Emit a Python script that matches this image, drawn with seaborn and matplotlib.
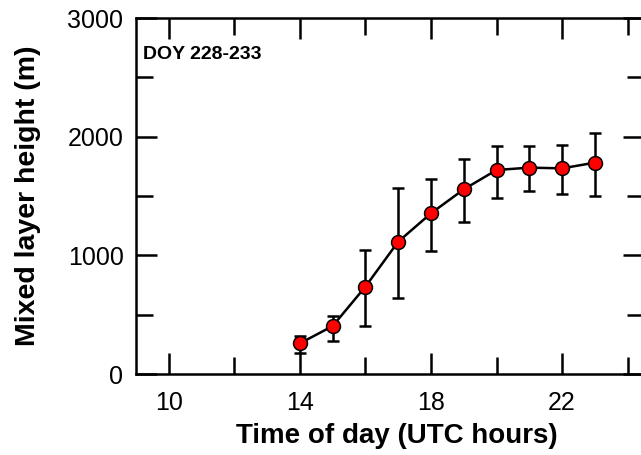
import matplotlib
matplotlib.use("Agg")
import matplotlib.pyplot as plt
import seaborn as sns
import pandas as pd
import numpy as np
from matplotlib.ticker import MultipleLocator

hours = [14, 15, 16, 17, 18, 19, 20, 21, 22, 23]
mlh = [258, 404, 736, 1115, 1354, 1556, 1719, 1739, 1733, 1781]
upper = [323, 489, 1045, 1565, 1643, 1809, 1924, 1921, 1930, 2028]
lower = [180, 281, 404, 643, 1036, 1284, 1486, 1542, 1517, 1503]
label_text = "DOY 228-233"

sns.set_theme(style="ticks")
plt.rcParams['font.family'] = ['Liberation Sans', 'DejaVu Sans']
plt.rcParams['text.color'] = 'black'
plt.rcParams['axes.labelcolor'] = 'black'
plt.rcParams['xtick.color'] = 'black'
plt.rcParams['ytick.color'] = 'black'

df = pd.DataFrame({"hour": hours, "mlh": mlh})
yerr = np.array([np.array(mlh) - np.array(lower), np.array(upper) - np.array(mlh)])

fig = plt.figure(figsize=(6.41, 4.55), dpi=100)
ax = fig.add_axes([136 / 641, (455 - 374) / 455, (644 - 136) / 641, (374 - 18) / 455])

ax.errorbar(hours, mlh, yerr=yerr, fmt="none", ecolor="black", elinewidth=1.8,
            capsize=4.5, capthick=1.8, zorder=2)
sns.lineplot(data=df, x="hour", y="mlh", ax=ax, color="black", linewidth=1.8,
             marker="o", markersize=10, markerfacecolor="#ff0000",
             markeredgecolor="black", markeredgewidth=1.1, zorder=3)

ax.set_xlim(9, 24.5)
ax.set_ylim(0, 3000)
ax.set_xticks([10, 14, 18, 22])
ax.set_xticks([12, 16, 20, 24], minor=True)
ax.set_yticks([0, 1000, 2000, 3000])
ax.yaxis.set_minor_locator(MultipleLocator(500))

for side in ["left", "right", "top", "bottom"]:
    ax.spines[side].set_visible(True)
    ax.spines[side].set_linewidth(1.8)
    ax.spines[side].set_color("black")

ax.tick_params(which="major", direction="in", length=15, width=1.8,
               top=True, right=True, labelsize=18, colors="black")
ax.tick_params(which="minor", direction="in", length=12.5, width=1.8,
               top=True, right=True)
ax.tick_params(axis="x", which="major", pad=12)
ax.tick_params(axis="y", which="major", pad=9)

ax.set_xlabel("Time of day (UTC hours)", fontsize=20, fontweight="bold", labelpad=6)
ax.xaxis.label.set_x(0.514)
ax.set_ylabel("Mixed layer height (m)", fontsize=20.5, fontweight="bold", labelpad=19)

ax.text(0.014, 0.92, label_text, transform=ax.transAxes, fontsize=14,
        fontweight="bold", ha="left", va="top")

fig.savefig("out.png", dpi=100)
